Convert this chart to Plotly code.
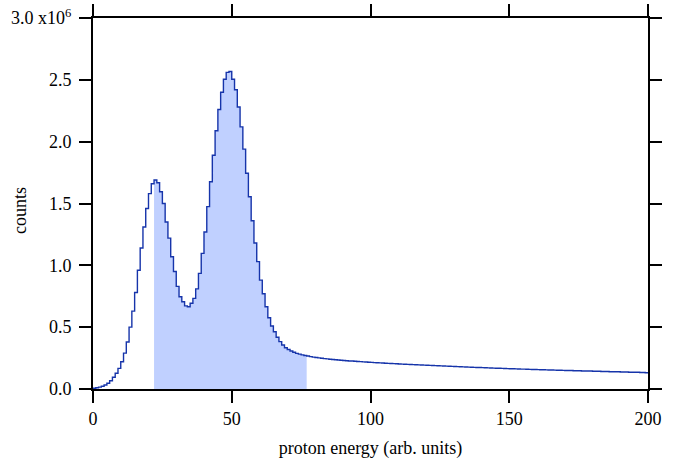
import plotly.graph_objects as go

# Histogram counts (units of 1e6) for 1-unit energy bins starting at 0
counts_rise = [0.006, 0.010, 0.015, 0.022, 0.032, 0.046, 0.067, 0.095, 0.127, 0.167,
               0.220, 0.290, 0.380, 0.500, 0.630, 0.780, 0.960, 1.140, 1.310, 1.460,
               1.580, 1.660]
counts_peak1 = [1.690, 1.668, 1.595, 1.500, 1.350, 1.220, 1.070, 0.950, 0.830, 0.746,
                0.706, 0.672, 0.665, 0.693, 0.733, 0.810, 0.935, 1.097, 1.270, 1.475]
counts_peak2 = [1.676, 1.890, 2.088, 2.260, 2.400, 2.505, 2.560, 2.567, 2.505, 2.420,
                2.280, 2.120, 1.940, 1.745, 1.555, 1.360, 1.180, 1.030, 0.880, 0.770,
                0.665, 0.576, 0.510, 0.463, 0.418, 0.383, 0.356, 0.334, 0.320, 0.307,
                0.297, 0.288, 0.282, 0.276, 0.271, 0.267]
counts_tail = [0.262, 0.258, 0.255, 0.252, 0.249, 0.246, 0.244, 0.241, 0.239, 0.237,
               0.235, 0.233, 0.231, 0.229, 0.227, 0.226, 0.224, 0.222, 0.221, 0.219,
               0.218, 0.216, 0.215, 0.213, 0.212, 0.211, 0.210, 0.208, 0.207, 0.206,
               0.205, 0.204, 0.202, 0.201, 0.200, 0.199, 0.198, 0.197, 0.196, 0.195,
               0.194, 0.193, 0.192, 0.191, 0.190, 0.189, 0.188, 0.187, 0.186, 0.185,
               0.184, 0.183, 0.182, 0.181, 0.180, 0.179, 0.178, 0.177, 0.176, 0.175,
               0.174, 0.174, 0.173, 0.172, 0.171, 0.170, 0.169, 0.168, 0.168, 0.167,
               0.166, 0.165, 0.164, 0.164, 0.163, 0.162, 0.161, 0.161, 0.160, 0.159,
               0.158, 0.158, 0.157, 0.156, 0.156, 0.155, 0.154, 0.154, 0.153, 0.152,
               0.152, 0.151, 0.150, 0.150, 0.149, 0.148, 0.148, 0.147, 0.146, 0.146,
               0.145, 0.145, 0.144, 0.143, 0.143, 0.142, 0.142, 0.141, 0.140, 0.140,
               0.139, 0.139, 0.138, 0.137, 0.137, 0.136, 0.136, 0.135, 0.135, 0.134,
               0.133, 0.132]
counts = counts_rise + counts_peak1 + counts_peak2 + counts_tail
bin_start = 0
bin_width = 1
shade_from = 22
shade_to = 77

x_ticks = [0, 50, 100, 150, 200]
y_ticks = [0.0, 0.5, 1.0, 1.5, 2.0, 2.5, 3.0]
y_ticktext = ["0.0", "0.5", "1.0", "1.5", "2.0", "2.5", "3.0 x10<sup>6</sup>"]

edges = [bin_start + i * bin_width for i in range(len(counts) + 1)]
step_y = counts + [counts[-1]]

i0 = shade_from - bin_start
i1 = shade_to - bin_start
shade_x = edges[i0:i1 + 1]
shade_y = counts[i0:i1] + [counts[i1 - 1]]

line_color = "rgb(22,52,170)"
fill_color = "rgb(192,208,255)"
font_family = "Liberation Serif, Times New Roman, serif"
fsize = 18

fig = go.Figure()
fig.add_trace(go.Scatter(x=shade_x, y=shade_y, mode="lines", line_shape="hv",
                         line=dict(width=0, color=fill_color), fill="tozeroy",
                         fillcolor=fill_color, hoverinfo="skip", showlegend=False))
fig.add_trace(go.Scatter(x=edges, y=step_y, mode="lines", line_shape="hv",
                         line=dict(width=1.4, color=line_color), showlegend=False))

axis_common = dict(showline=True, linecolor="black", linewidth=2, mirror="ticks",
                   ticks="outside", ticklen=12, tickwidth=2, tickcolor="black",
                   showgrid=False, zeroline=False, ticklabeloverflow="allow",
                   tickfont=dict(family=font_family, size=fsize, color="black"))

fig.update_xaxes(range=[0, 200], tickvals=x_ticks,
                 title=dict(text="proton energy (arb. units)", standoff=22,
                            font=dict(family=font_family, size=fsize, color="black")),
                 **axis_common)
fig.update_yaxes(range=[0, 3.0], tickvals=y_ticks, ticktext=y_ticktext,
                 ticklabelstandoff=4, **axis_common)

fig.add_annotation(text="counts", xref="paper", yref="paper", x=-0.1315, y=0.48,
                   textangle=-90, showarrow=False, xanchor="center", yanchor="middle",
                   font=dict(family=font_family, size=fsize, color="black"))

fig.update_layout(width=675, height=459, plot_bgcolor="white", paper_bgcolor="white",
                  margin=dict(l=93, r=27, t=18, b=70, autoexpand=False),
                  font=dict(family=font_family, size=fsize, color="black"))

fig.write_html("out.html", config={"displayModeBar": False},
               post_script="document.body.style.margin='0';document.body.style.overflow='hidden';")
